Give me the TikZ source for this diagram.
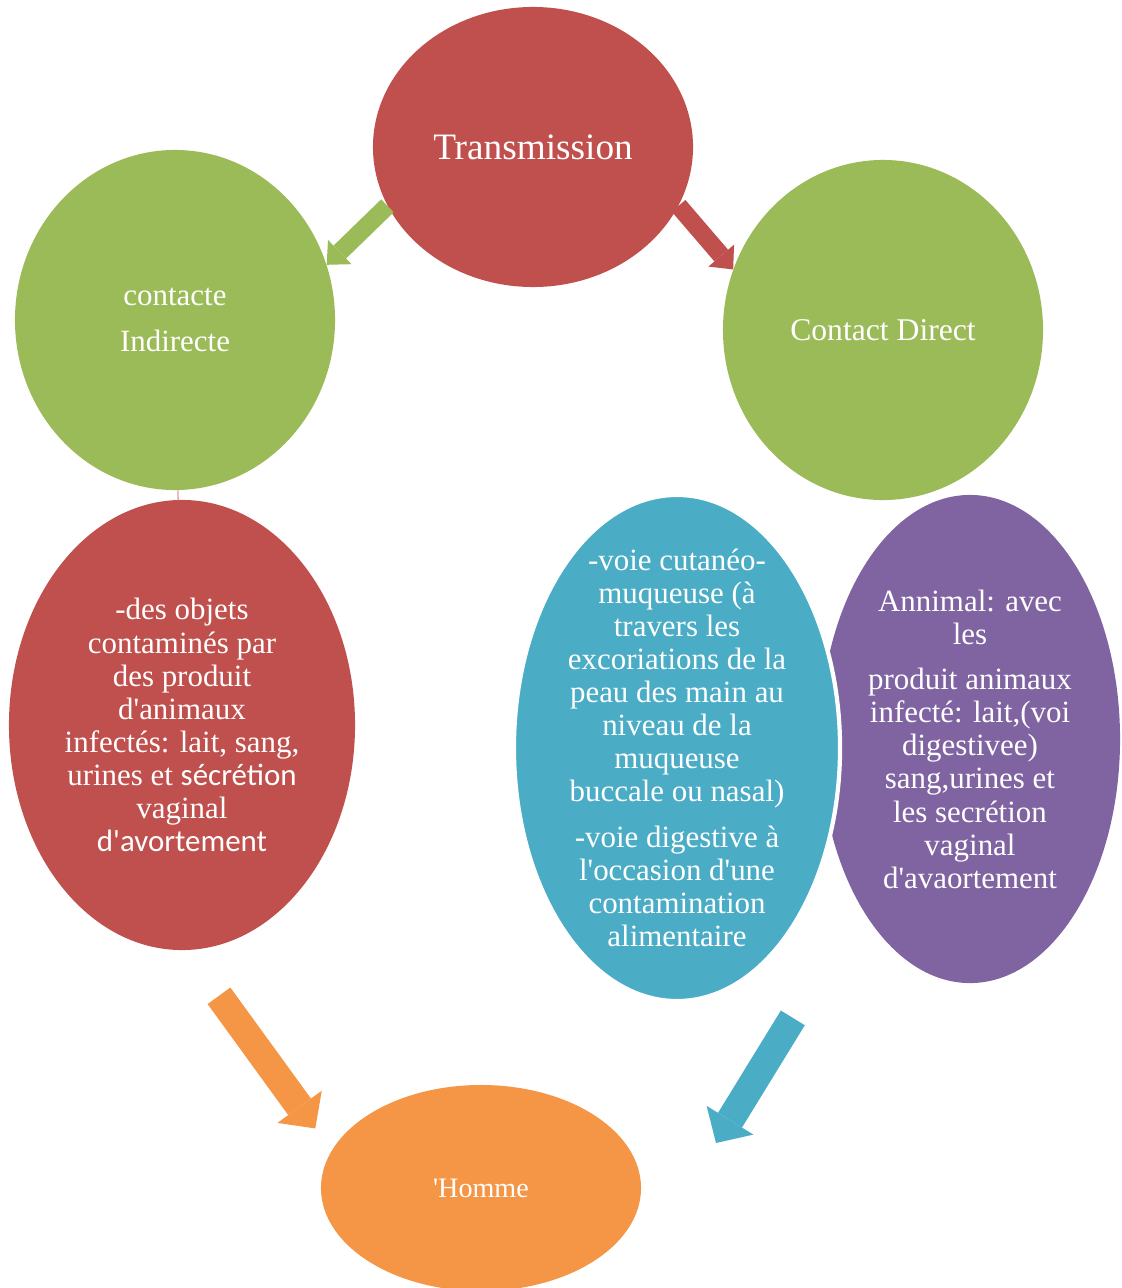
\documentclass[tikz,border=0pt]{standalone}
\usepackage{fontspec}
\usepackage{xcolor}
\newfontfamily\ovalfont{Liberation Serif}
\newfontfamily\calibrifont{Carlito}
\usepackage{tikz}
\usetikzlibrary{shapes.geometric,arrows.meta}

\definecolor{ovalred}{HTML}{C0504D}
\definecolor{ovalgreen}{HTML}{9BBB59}
\definecolor{ovalteal}{HTML}{4BACC6}
\definecolor{ovalpurple}{HTML}{8064A2}
\definecolor{ovalorange}{HTML}{F59646}

\begin{document}
\begin{tikzpicture}[
    x=0.025cm, y=-0.025cm,
    oval/.style={ellipse, draw=none, inner sep=0pt},
    ovaltext/.style={text=white, align=center, font=\ovalfont\fontsize{22}{23.5}\selectfont},
    thinarrow/.style={line width=12.8pt, -{Triangle[width=24pt, length=13pt, line width=0pt]}},
    widearrow/.style={line width=20pt, -{Triangle[width=39pt, length=19pt, line width=0pt]}}
]
    \useasboundingbox (0,0) rectangle (1122,1288);

    % Ovals
    \node[oval, fill=ovalred, minimum width=8cm, minimum height=7cm] (trans) at (533,147) {};
    \node[oval, fill=ovalgreen, minimum width=8cm, minimum height=8.5cm] (indir) at (175,320) {};
    \node[oval, fill=ovalgreen, minimum width=8cm, minimum height=8.5cm] (direct) at (883,330) {};
    \node[oval, fill=ovalred, minimum width=8.65cm, minimum height=11.25cm] (pathog) at (182,725) {};
    \node[oval, fill=ovalpurple, minimum width=7.5cm, minimum height=12.2cm] (animal) at (970,739) {};
    \node[oval, fill=ovalteal, draw=white, line width=3pt, minimum width=8.15cm, minimum height=12.65cm] (cutan) at (677,748) {};
    \node[oval, fill=ovalorange, minimum width=8cm, minimum height=5.15cm] (homme) at (481,1188) {};

    % Texts
    \node[ovaltext, font=\ovalfont\fontsize{26.5}{30}\selectfont] (trans-txt) at (trans) {Transmission};
    \node[ovaltext] (indir-txt) at (indir) {contacte\\[9pt]Indirecte};
    \node[ovaltext, font=\ovalfont\fontsize{22.5}{24}\selectfont] (direct-txt) at (direct) {Contact Direct};
    \node[ovaltext] (pathog-txt) at (pathog) {-des objets\\contaminés par\\des produit\\d'animaux\\infectés: lait, sang,\\urines et {\calibrifont sécrétion}\\vaginal\\{\calibrifont d'avortement}};
    \node[ovaltext] (cutan-txt) at (cutan) {-voie cutanéo-\\muqueuse (à\\travers les\\excoriations de la\\peau des main au\\niveau de la\\muqueuse\\buccale ou nasal)\\[9pt]-voie digestive à\\l'occasion d'une\\contamination\\alimentaire};
    \node[ovaltext] (animal-txt) at (animal) {Annimal: avec\\les\\[9pt]produit animaux\\infecté: lait,(voi\\digestivee)\\sang,urines et\\les secrétion\\vaginal\\d'avaortement};
    \node[ovaltext, font=\ovalfont\fontsize{20}{22}\selectfont] (homme-txt) at (homme) {'Homme};

    % Arrows
    \draw[thinarrow, ovalgreen] (trans.202) -- (indir.20);
    \draw[thinarrow, ovalred] (trans.338) -- (direct.158);
    \draw[ovalred, line width=0.6pt] (indir) -- (pathog);
    \draw[widearrow, ovalorange, shorten <=40pt, shorten >=19.6pt] (pathog.-89) -- (homme.166);
    \coordinate (tealtip) at (716,1143);
    \draw[widearrow, ovalteal, shorten <=92.5pt] (animal.237) -- (tealtip);
\end{tikzpicture}
\end{document}
